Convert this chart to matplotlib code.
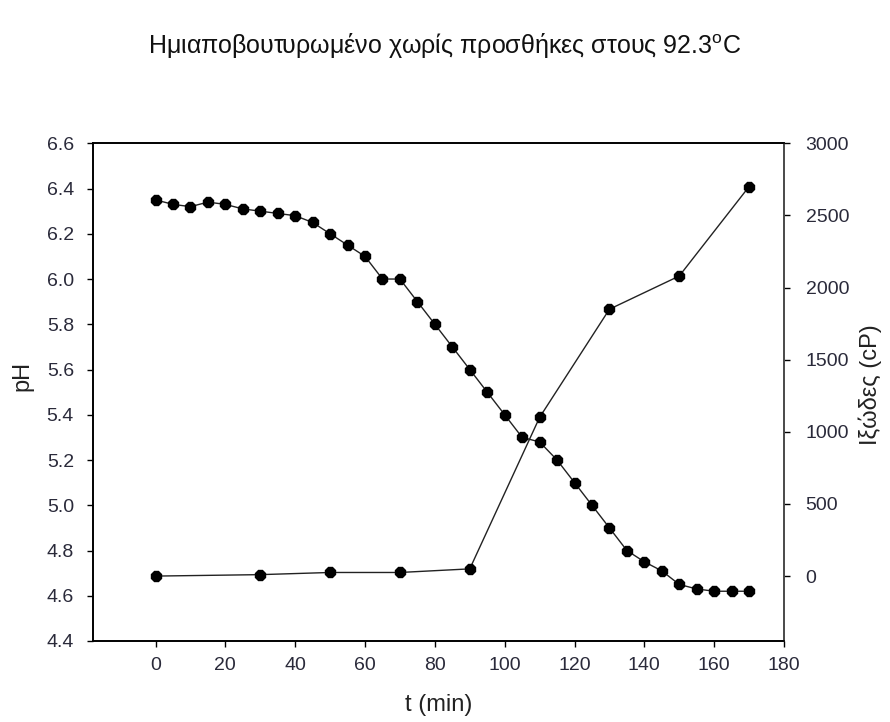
import matplotlib
matplotlib.use("Agg")
import matplotlib.pyplot as plt

plt.rcParams['font.family'] = ['Liberation Sans', 'DejaVu Sans']
plt.rcParams['mathtext.fontset'] = 'custom'
plt.rcParams['mathtext.rm'] = 'Liberation Sans'

# pH readings every 5 min
t_ph = [0, 5, 10, 15, 20, 25, 30, 35, 40, 45, 50, 55, 60, 65, 70, 75, 80, 85,
        90, 95, 100, 105, 110, 115, 120, 125, 130, 135, 140, 145, 150, 155,
        160, 165, 170]
ph = [6.35, 6.33, 6.32, 6.34, 6.33, 6.31, 6.30, 6.29, 6.28, 6.25, 6.20, 6.15,
      6.10, 6.00, 6.00, 5.90, 5.80, 5.70, 5.60, 5.50, 5.40, 5.30, 5.28, 5.20,
      5.10, 5.00, 4.90, 4.80, 4.75, 4.71, 4.65, 4.63, 4.62, 4.62, 4.62]

# viscosity readings
t_visc = [0, 30, 50, 70, 90, 110, 130, 150, 170]
visc = [0, 10, 25, 25, 50, 1100, 1850, 2080, 2700]

title = "Ημιαποβουτυρωμένο χωρίς προσθήκες στους 92.3$^{\\mathrm{o}}$C"

fig = plt.figure(figsize=(8.9, 7.22), dpi=100)
ax = fig.add_axes([92.7 / 890, 1 - 641 / 722, (784 - 92.7) / 890, (641 - 143.3) / 722])
ax2 = ax.twinx()

ax.plot(t_ph, ph, color='#222222', lw=1.0, marker='8', ms=8.5,
        mfc='black', mec='black')
ax2.plot(t_visc, visc, color='#222222', lw=1.0, marker='8', ms=8.5,
         mfc='black', mec='black')

ax.set_xlim(-18, 180)
ax.set_ylim(4.4, 6.6)
ax2.set_ylim(-450, 3000)
ax.set_xticks(range(0, 181, 20))
ax.set_yticks([4.4 + 0.2 * i for i in range(12)])
ax.set_yticklabels([f"{4.4 + 0.2 * i:.1f}" for i in range(12)])
ax2.set_yticks(range(0, 3001, 500))

for a in (ax, ax2):
    a.tick_params(direction='out', length=4.5, width=1.0, labelsize=14,
                  labelcolor='#2a2a3a')
    for s in a.spines.values():
        s.set_linewidth(1.2)
ax.tick_params(axis='x', pad=7)
ax.tick_params(axis='y', pad=9)
ax2.tick_params(axis='y', pad=11)
ax2.spines['right'].set_color('#555555')

ax.set_xlabel("t (min)", fontsize=17, color='#222222')
ax.xaxis.set_label_coords(0.5, -(705 - 641) / 497.7)
ax.xaxis.label.set_va('center')
ax.set_ylabel("pH", fontsize=17, color='#222222')
ax.yaxis.set_label_coords((22 - 92.7) / 691.3, (641 - 376) / 497.7)
ax.yaxis.label.set_va('center')
ax2.set_ylabel("Ιξώδες (cP)", fontsize=17, color='#222222')
ax2.yaxis.set_label_coords((870 - 92.7) / 691.3, (641 - 385) / 497.7)
ax2.yaxis.label.set_va('center')

fig.text(0.5, 1 - 45 / 722, title, ha='center', va='center', fontsize=18,
         color='#111111')

fig.savefig("out.png", dpi=100)
